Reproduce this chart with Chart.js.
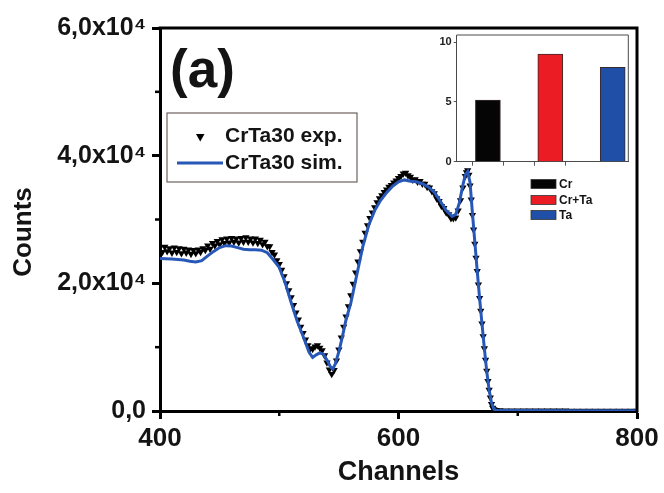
<!DOCTYPE html>
<html><head><meta charset="utf-8">
<script src="https://cdn.jsdelivr.net/npm/chart.js@4.4.0/dist/chart.umd.min.js"></script>
<style>
html,body{margin:0;padding:0;background:#fff;}
#wrap{position:relative;width:664px;height:493px;overflow:hidden;}
#main{position:absolute;left:0;top:0;}
#inset{position:absolute;left:420px;top:25px;}
</style></head><body>
<div id="wrap"><canvas id="main" width="664" height="493"></canvas><canvas id="inset" width="220" height="150"></canvas></div>
<script>
const FONT = "'Liberation Sans', Arial, Helvetica, sans-serif";
const seriesNames = ['CrTa30 exp.', 'CrTa30 sim.'];
const xTitle = 'Channels';
const yTitle = 'Counts';
const panelLabel = '(a)';
const xTickLabels = {400: '400', 600: '600', 800: '800'};
const yTickLabels = {0: '0,0', 20000: '2,0x10\u2074', 40000: '4,0x10\u2074', 60000: '6,0x10\u2074'};

const expChannels = [
  400,402,404,406,408,410,412,414,416,418,
  420,422,424,426,428,430,432,434,436,438,
  440,442,444,446,448,450,452,454,456,458,
  460,462,464,466,468,470,472,474,476,478,
  480,482,484,486,488,490,492,494,496,498,
  500,502,504,506,508,510,512,514,516,518,
  520,522,524,526,528,530,532,534,536,538,
  540,542,544,546,548,550,552,554,556,558,
  560,562,564,566,568,570,572,574,576,578,
  580,582,584,586,588,590,592,594,596,598,
  600,602,604,606,608,610,612,614,616,618,
  620,622,624,626,628,630,632,634,636,638,
  640,642,644,646,648,650,652,654,656,
  657,658,659,660,661,662,663,664,665,666,
  667,668,669,670,671,672,673,674,675,676,
  677,678,679,680,681,682,
  685,690,695,700,705,710,715,720,725,730,
  735,740,745,750,755,760,765,770,775,780,
  785,790,795,800
];
const expCounts = [
  25600,24900,25700,25000,25500,24800,25600,24900,25500,24700,
  25400,24800,25300,24600,25200,24700,25300,24900,25500,25200,
  25900,25400,26300,25900,26600,26100,26900,26300,27000,26400,
  27100,26500,27000,26400,27100,26500,27200,26500,27000,26400,
  27000,26300,26800,26100,26500,25800,25800,24900,24500,23600,
  23000,22100,21100,20000,18900,17800,16600,15400,14300,13200,
  12200,11200,10300,9800,9700,10100,10300,9900,9500,8700,
  7600,6500,5800,6400,7900,9600,11500,13200,14800,16400,
  18100,19900,21700,23400,25000,26500,27900,29100,30200,31100,
  31900,32700,33300,33800,34300,34700,35100,35400,35800,36100,
  36500,36800,37200,37300,36900,36700,36200,36300,35900,36000,
  35600,35600,35100,35000,34400,34100,33300,32900,32100,31800,
  31100,30800,30200,30200,30300,31400,33000,35000,36800,
  37400,37700,37000,35300,33100,30700,28400,26200,24000,21900,
  19800,17700,15700,13700,11700,9800,8000,6300,4700,3300,
  2100,1100,500,250,150,100,
  90,80,70,70,60,60,60,50,50,50,
  50,50,40,40,40,40,40,40,30,30,
  30,30,30,30
];

const simChannels = [
  400,405,410,415,420,425,430,435,440,445,
  450,455,460,465,470,475,480,485,490,495,
  500,505,510,515,520,525,528,531,534,537,
  540,543,545,547,550,553,556,560,565,570,
  575,580,585,590,595,600,605,610,615,620,
  625,630,635,640,645,648,651,654,656,658,
  660,662,664,666,668,670,672,674,676,678,
  680,682,690,700,750,800
];
const simCounts = [
  23900,23850,23800,23750,23650,23450,23350,23550,24300,25000,
  25600,25900,25850,25600,25350,25250,25250,25200,24800,23700,
  22500,20100,17000,14100,11700,9200,8400,8800,9100,8900,
  8000,6900,6600,7400,9300,11700,14300,16900,21300,25700,
  29100,31400,33000,34200,35200,35900,36200,36000,35900,35600,
  35100,34300,32900,31400,30500,30800,32600,35400,37000,37500,
  35800,31000,26500,22000,17700,13700,9800,6200,3300,1300,
  300,100,80,60,50,40
];

const insetCategories = ['Cr', 'Cr+Ta', 'Ta'];
const insetValues = [5.15, 9.0, 7.9];
const insetColors = ['#050505', '#ec1c24', '#1f4fa6'];
const insetTickValues = [0, 5, 10];

const SIM_BLUE = '#2758b8';
const INK = '#141414';

const decorPlugin = {
  id: 'decor',
  afterDraw(chart) {
    const ctx = chart.ctx;
    const a = chart.chartArea;
    const xs = chart.scales.x, ys = chart.scales.y;
    ctx.save();
    ctx.strokeStyle = '#000';
    ctx.lineWidth = 3;
    ctx.beginPath();
    ctx.moveTo(a.left - 1.5, a.top);
    ctx.lineTo(a.right, a.top);
    ctx.lineTo(a.right, a.bottom + 1.5);
    ctx.stroke();
    ctx.lineWidth = 2.5;
    [500, 700].forEach(v => {
      const px = xs.getPixelForValue(v);
      ctx.beginPath(); ctx.moveTo(px, a.bottom); ctx.lineTo(px, a.bottom + 5); ctx.stroke();
    });
    [10000, 30000, 50000].forEach(v => {
      const py = ys.getPixelForValue(v);
      ctx.beginPath(); ctx.moveTo(a.left, py); ctx.lineTo(a.left - 5, py); ctx.stroke();
    });
    ctx.fillStyle = INK;
    ctx.font = 'bold 26px ' + FONT;
    ctx.textAlign = 'center';
    ctx.textBaseline = 'middle';
    ctx.save();
    ctx.translate(24, 232);
    ctx.rotate(-Math.PI / 2);
    ctx.fillText(yTitle, 0, 0);
    ctx.restore();
    ctx.font = 'bold 53px ' + FONT;
    ctx.textAlign = 'left';
    ctx.textBaseline = 'alphabetic';
    ctx.fillText(panelLabel, 170, 87);
    ctx.strokeStyle = '#6e625e';
    ctx.lineWidth = 1.2;
    ctx.strokeRect(167, 113, 190, 69);
    ctx.fillStyle = '#000';
    ctx.beginPath();
    ctx.moveTo(196, 134); ctx.lineTo(204.5, 134); ctx.lineTo(200.25, 141.5); ctx.closePath();
    ctx.fill();
    ctx.strokeStyle = SIM_BLUE;
    ctx.lineWidth = 3;
    ctx.beginPath(); ctx.moveTo(177, 163); ctx.lineTo(223, 163); ctx.stroke();
    ctx.fillStyle = INK;
    ctx.font = 'bold 21px ' + FONT;
    ctx.fillText(seriesNames[0], 225, 142);
    ctx.fillText(seriesNames[1], 225, 169);
    const rows = [184, 200, 215];
    ctx.font = 'bold 12px ' + FONT;
    ctx.textBaseline = 'middle';
    insetCategories.forEach((c, i) => {
      ctx.fillStyle = insetColors[i];
      ctx.fillRect(531, rows[i] - 4.5, 25, 9);
      ctx.strokeStyle = '#333';
      ctx.lineWidth = 0.8;
      ctx.strokeRect(531, rows[i] - 4.5, 25, 9);
      ctx.fillStyle = INK;
      ctx.fillText(c, 559, rows[i] + 0.5);
    });
    ctx.restore();
  }
};

Chart.defaults.font.family = FONT;

new Chart(document.getElementById('main'), {
  type: 'scatter',
  data: {
    datasets: [
      {
        label: seriesNames[0],
        data: expChannels.map((c, i) => ({x: c, y: expCounts[i]})),
        showLine: false,
        pointStyle: 'triangle',
        rotation: 180,
        pointRadius: 4.2,
        pointHoverRadius: 4.2,
        backgroundColor: '#000',
        borderColor: '#000',
        pointBorderWidth: 0,
        order: 2
      },
      {
        label: seriesNames[1],
        data: simChannels.map((c, i) => ({x: c, y: simCounts[i]})),
        showLine: true,
        pointRadius: 0,
        borderColor: SIM_BLUE,
        borderWidth: 3,
        tension: 0,
        order: 1
      }
    ]
  },
  options: {
    responsive: false,
    animation: false,
    layout: {padding: {top: 28, right: 27, left: 0, bottom: 0}},
    plugins: {legend: {display: false}, tooltip: {enabled: false}},
    scales: {
      x: {
        type: 'linear', min: 400, max: 800,
        ticks: {
          stepSize: 100, autoSkip: false, maxRotation: 0, padding: 4,
          callback: v => xTickLabels[v] !== undefined ? xTickLabels[v] : '',
          font: {size: 26, weight: 'bold'}, color: INK
        },
        grid: {
          drawOnChartArea: false, tickLength: 8, tickWidth: 3,
          tickColor: c => (c.tick && xTickLabels[c.tick.value] !== undefined) ? '#000' : 'rgba(0,0,0,0)'
        },
        border: {color: '#000', width: 3},
        title: {display: true, text: xTitle, font: {size: 27, weight: 'bold'}, color: INK, padding: {top: 0, bottom: 4}},
        afterFit: s => { s.height = 82; }
      },
      y: {
        min: 0, max: 60000,
        ticks: {
          stepSize: 10000, autoSkip: false, padding: 6,
          callback: v => yTickLabels[v] !== undefined ? yTickLabels[v] : '',
          font: {size: 25, weight: 'bold'}, color: INK
        },
        grid: {
          drawOnChartArea: false, tickLength: 8, tickWidth: 3,
          tickColor: c => (c.tick && yTickLabels[c.tick.value] !== undefined) ? '#000' : 'rgba(0,0,0,0)'
        },
        border: {color: '#000', width: 3},
        afterFit: s => { s.width = 160; }
      }
    }
  },
  plugins: [decorPlugin]
});

const insetFrame = {
  id: 'insetFrame',
  afterDraw(chart) {
    const ctx = chart.ctx, a = chart.chartArea;
    ctx.save();
    ctx.strokeStyle = '#4a4a4a';
    ctx.lineWidth = 1;
    ctx.beginPath();
    ctx.moveTo(a.left, a.top); ctx.lineTo(a.right, a.top); ctx.lineTo(a.right, a.bottom);
    ctx.stroke();
    ctx.restore();
  }
};

new Chart(document.getElementById('inset'), {
  type: 'bar',
  data: {
    datasets: [{
      data: insetCategories.map((c, i) => ({x: i + 1, y: insetValues[i]})),
      backgroundColor: insetColors,
      borderColor: '#3a2a2a',
      borderWidth: 1,
      barThickness: 25
    }]
  },
  options: {
    responsive: false,
    animation: false,
    layout: {padding: {top: 10, right: 11.7, left: 0, bottom: 0}},
    plugins: {legend: {display: false}, tooltip: {enabled: false}},
    scales: {
      x: {
        type: 'linear', min: 0.5, max: 3.25, offset: false,
        ticks: {stepSize: 0.5, display: false},
        grid: {
          drawOnChartArea: false, tickLength: 4, tickWidth: 1,
          tickColor: c => (c.tick && c.tick.value >= 1 && c.tick.value <= 3) ? '#555' : 'rgba(0,0,0,0)'
        },
        border: {color: '#4a4a4a', width: 1},
        afterFit: s => { s.height = 13.3; }
      },
      y: {
        min: 0, max: 10.6,
        afterBuildTicks: s => { s.ticks = insetTickValues.map(v => ({value: v})); },
        ticks: {
          padding: 2,
          callback: v => String(v),
          font: {size: 11, weight: 'bold'}, color: '#222'
        },
        grid: {
          drawOnChartArea: false, tickLength: 3, tickWidth: 1, tickColor: '#555'
        },
        border: {color: '#4a4a4a', width: 1},
        afterFit: s => { s.width = 36.7; }
      }
    }
  },
  plugins: [insetFrame]
});
</script>
</body></html>
